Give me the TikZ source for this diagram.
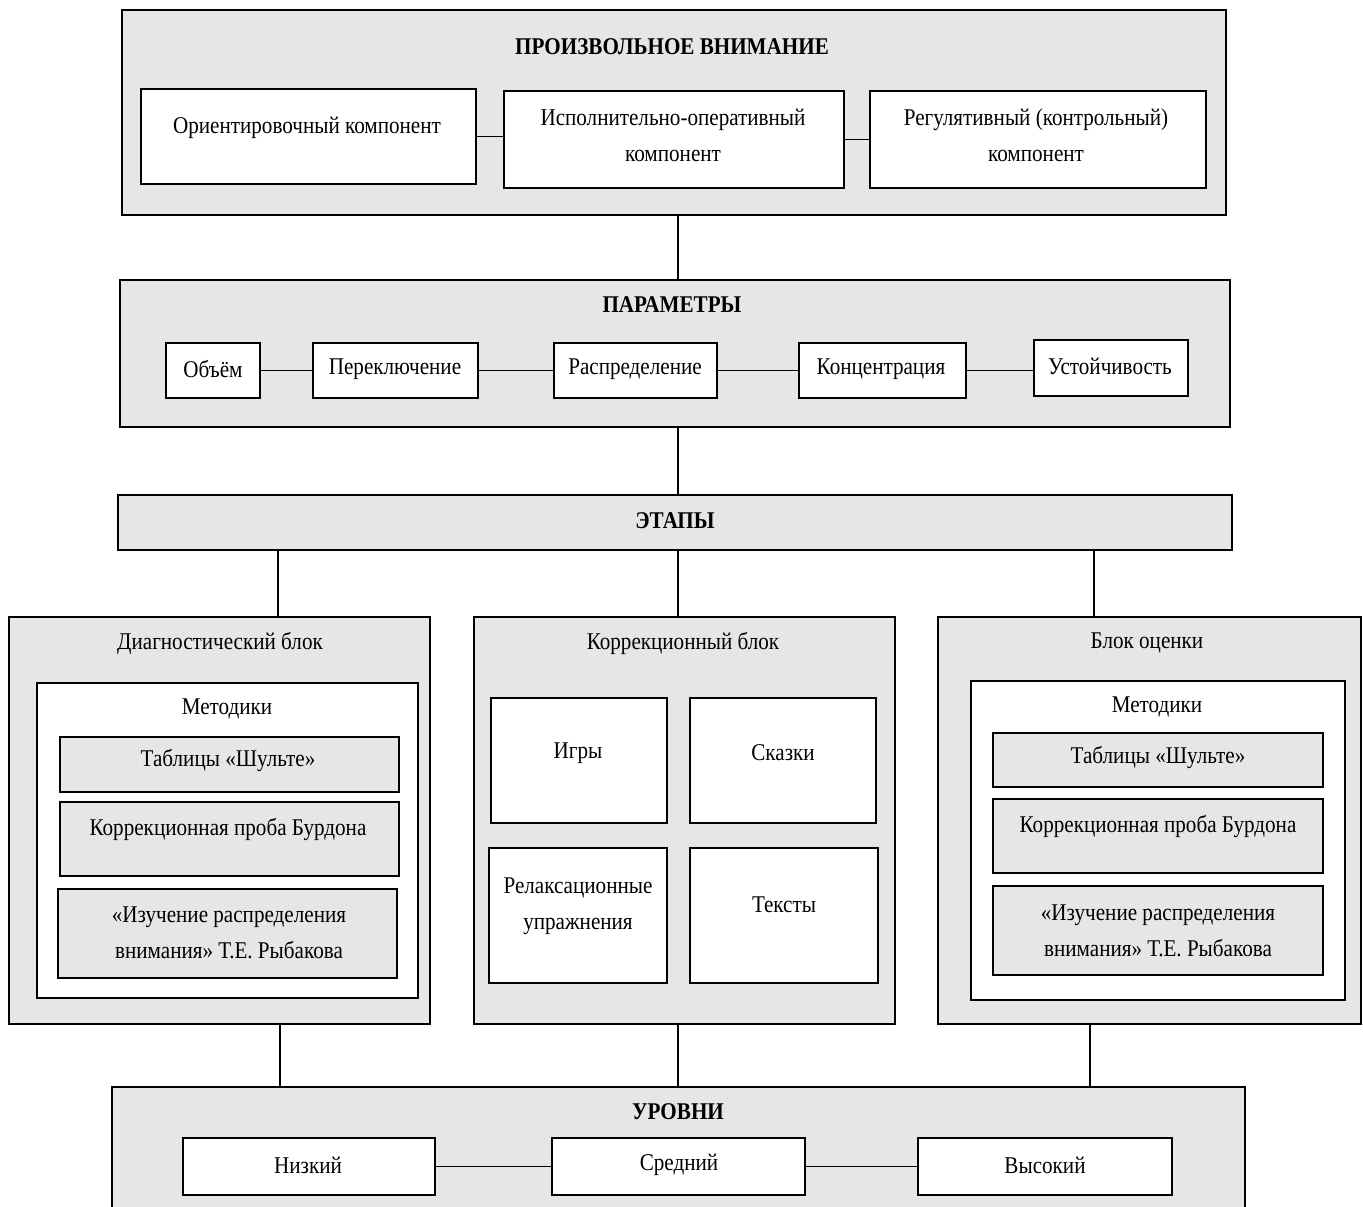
\documentclass[tikz,border=0pt]{standalone}
\usepackage{fontspec}
\setmainfont[FakeStretch=0.88]{Liberation Serif}
\usetikzlibrary{fit,calc}
\definecolor{panel}{RGB}{230,230,230}
\tikzset{
  frame/.style={draw=black, line width=1.6pt, inner sep=0pt, fill=panel},
  whitebox/.style={draw=black, line width=1.8pt, inner sep=0pt, fill=white},
  graybox/.style={draw=black, line width=1.8pt, inner sep=0pt, fill=panel},
  lbl/.style={font=\fontsize{24}{36}\selectfont, align=center, inner sep=0pt},
  ttl/.style={font=\bfseries\fontsize{24}{36}\selectfont, align=center, inner sep=0pt},
  conn/.style={line width=1.6pt},
}
\newcommand\bx[6]{\node[#1, fit={(#3,#4) (#5,#6)}] (#2) {};}
\begin{document}
\begin{tikzpicture}[x=1pt,y=-1pt]
\clip (0,0) rectangle (1363,1207);
\fill[white] (0,0) rectangle (1363,1207);

% ---- top
\bx{frame}{top}{122}{10}{1226}{215}
\node[ttl] (topt) at (672,47) {ПРОИЗВОЛЬНОЕ ВНИМАНИЕ};
\bx{whitebox}{c1}{141}{89}{476}{184}
\bx{whitebox}{c2}{504}{91}{844}{188}
\bx{whitebox}{c3}{870}{91}{1206}{188}
\node[lbl] (c1t) at (307,128) {Ориентировочный компонент};
\node[lbl] (c2t) at (673,135) {Исполнительно-оперативный\\компонент};
\node[lbl] (c3t) at (1036,135) {Регулятивный (контрольный)\\компонент};
\draw[conn] (c1.east) -- (c1.east -| c2.west);
\draw[conn] (c2.east) -- (c2.east -| c3.west);

% ---- parameters
\bx{frame}{par}{120}{280}{1230}{427}
\node[ttl] (part) at (672,305) {ПАРАМЕТРЫ};
\bx{whitebox}{p1}{166}{343}{260}{398}
\bx{whitebox}{p2}{313}{343}{478}{398}
\bx{whitebox}{p3}{554}{343}{717}{398}
\bx{whitebox}{p4}{799}{343}{966}{398}
\bx{whitebox}{p5}{1034}{340}{1188}{396}
\node[lbl] (p1t) at (213,369) {Объём};
\node[lbl] (p2t) at (395,369) {Переключение};
\node[lbl] (p3t) at (635,369) {Распределение};
\node[lbl] (p4t) at (881,369) {Концентрация};
\node[lbl] (p5t) at (1110,366) {Устойчивость};
\draw[conn] (p1.east) -- (p1.east -| p2.west);
\draw[conn] (p2.east) -- (p2.east -| p3.west);
\draw[conn] (p3.east) -- (p3.east -| p4.west);
\draw[conn] (p4.east) -- (p4.east -| p5.west);
\draw[conn] ($(top.south)+(4,0)$) coordinate (tp) -- (tp |- par.north);

% ---- stages
\bx{frame}{et}{118}{495}{1232}{550}
\node[ttl] (ett) at (675,521) {ЭТАПЫ};
\draw[conn] ($(par.south)+(3,0)$) coordinate (pp) -- (pp |- et.north);

% ---- blocks
\bx{frame}{b1}{9}{617}{430}{1024}
\bx{frame}{b2}{474}{617}{895}{1024}
\bx{frame}{b3}{938}{617}{1361}{1024}
\node[lbl] (b1t) at (220,643) {Диагностический блок};
\node[lbl] (b2t) at (683,643) {Коррекционный блок};
\node[lbl] (b3t) at (1147,643) {Блок оценки};

\coordinate (e1) at ($(b1.north)+(58.5,0)$);
\coordinate (e2) at ($(b2.north)+(-6.5,0)$);
\coordinate (e3) at ($(b3.north)+(-55.5,0)$);
\draw[conn] (e1 |- et.south) -- (e1);
\draw[conn] (e2 |- et.south) -- (e2);
\draw[conn] (e3 |- et.south) -- (e3);

% diagnostic block
\bx{whitebox}{m1}{37}{683}{418}{998}
\node[lbl] (m1t) at (227,709) {Методики};
\bx{graybox}{g11}{60}{737}{399}{792}
\bx{graybox}{g12}{60}{802}{399}{876}
\bx{graybox}{g13}{58}{889}{397}{978}
\node[lbl] (g11t) at (228,760) {Таблицы «Шульте»};
\node[lbl] (g12t) at (228,829) {Коррекционная проба Бурдона};
\node[lbl] (g13t) at (229,933) {«Изучение распределения\\внимания» Т.Е. Рыбакова};

% correction block
\bx{whitebox}{k1}{491}{698}{667}{823}
\bx{whitebox}{k2}{690}{698}{876}{823}
\bx{whitebox}{k3}{489}{848}{667}{983}
\bx{whitebox}{k4}{690}{848}{878}{983}
\node[lbl] (k1t) at (578,753) {Игры};
\node[lbl] (k2t) at (783,753) {Сказки};
\node[lbl] (k3t) at (578,906) {Релаксационные\\упражнения};
\node[lbl] (k4t) at (784,905) {Тексты};

% evaluation block
\bx{whitebox}{m3}{971}{681}{1345}{1000}
\node[lbl] (m3t) at (1157,707) {Методики};
\bx{graybox}{g31}{993}{733}{1323}{787}
\bx{graybox}{g32}{993}{799}{1323}{873}
\bx{graybox}{g33}{993}{886}{1323}{975}
\node[lbl] (g31t) at (1158,757) {Таблицы «Шульте»};
\node[lbl] (g32t) at (1158,826) {Коррекционная проба Бурдона};
\node[lbl] (g33t) at (1158,931) {«Изучение распределения\\внимания» Т.Е. Рыбакова};

% ---- levels
\bx{frame}{lv}{112}{1087}{1245}{1240}
\node[ttl] (lvt) at (678,1112) {УРОВНИ};
\coordinate (d1) at ($(b1.south)+(60.5,0)$);
\coordinate (d2) at ($(b2.south)+(-6.5,0)$);
\coordinate (d3) at ($(b3.south)+(-59.5,0)$);
\draw[conn] (d1) -- (d1 |- lv.north);
\draw[conn] (d2) -- (d2 |- lv.north);
\draw[conn] (d3) -- (d3 |- lv.north);
\bx{whitebox}{u1}{183}{1138}{435}{1195}
\bx{whitebox}{u2}{552}{1138}{805}{1195}
\bx{whitebox}{u3}{918}{1138}{1172}{1195}
\node[lbl] (u1t) at (308,1165) {Низкий};
\node[lbl] (u2t) at (679,1165) {Средний};
\node[lbl] (u3t) at (1045,1165) {Высокий};
\draw[conn] (u1.east) -- (u1.east -| u2.west);
\draw[conn] (u2.east) -- (u2.east -| u3.west);
\end{tikzpicture}
\end{document}
